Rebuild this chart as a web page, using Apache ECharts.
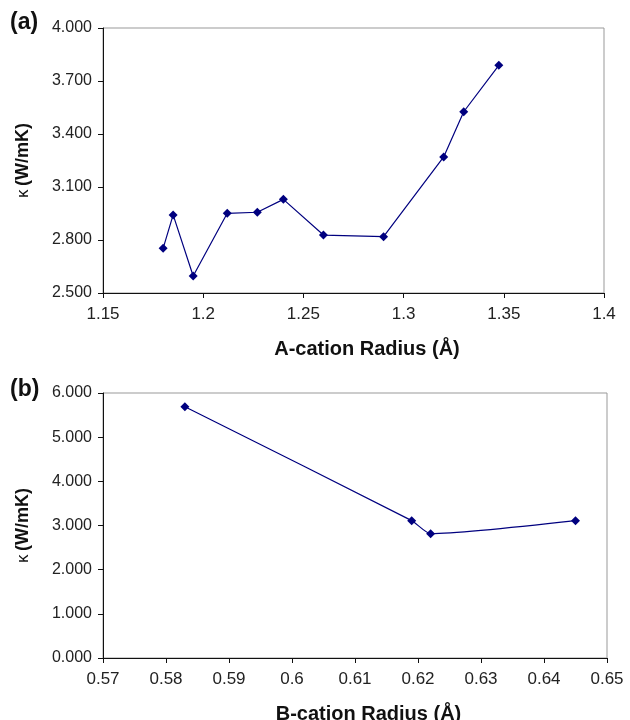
<!DOCTYPE html>
<html>
<head>
<meta charset="utf-8">
<script src="https://cdn.jsdelivr.net/npm/echarts@6/dist/echarts.min.js"></script>
<style>
  html, body { margin: 0; padding: 0; background: #fff; }
  #main { width: 630px; height: 720px; }
</style>
</head>
<body>
<div id="main"></div>
<script>
// panel (a): A-cation radius vs kappa
var aRadius = [1.18, 1.185, 1.195, 1.212, 1.227, 1.24, 1.26, 1.29, 1.32, 1.33, 1.3475];
var aKappa  = [2.753, 2.942, 2.596, 2.951, 2.957, 3.030, 2.828, 2.819, 3.270, 3.526, 3.789];
// panel (b): B-cation radius vs kappa
var bRadius = [0.583, 0.619, 0.622, 0.645];
var bKappa  = [5.69, 3.11, 2.815, 3.11];

var navy = '#00007f';
var font = 'Liberation Sans, Arial, sans-serif';

function pairs(xs, ys) {
  return xs.map(function (x, i) { return [x, ys[i]]; });
}

function xAxisOf(idx, min, max, interval, name) {
  return {
    type: 'value', gridIndex: idx, min: min, max: max, interval: interval,
    name: name, nameLocation: 'middle', nameGap: 46,
    nameTextStyle: { fontFamily: font, fontSize: 20, fontWeight: 'bold', color: '#111', padding: [0, 0, 0, 27] },
    axisLine: { show: true, lineStyle: { color: '#111', width: 1 } },
    axisTick: { show: true, length: 5, lineStyle: { color: '#111' } },
    axisLabel: { fontFamily: font, fontSize: 17, color: '#222', margin: 13 },
    splitLine: { show: false }
  };
}

function yAxisOf(idx, min, max, interval) {
  return {
    type: 'value', gridIndex: idx, min: min, max: max, interval: interval,
    name: '{k|κ} {b|(W/mK)}', nameLocation: 'middle', nameGap: 71, nameRotate: 90,
    nameTextStyle: {
      rich: {
        k: { fontFamily: font, fontSize: 17, color: '#111' },
        b: { fontFamily: font, fontSize: 18, fontWeight: 'bold', color: '#111' }
      }
    },
    axisLine: { show: true, lineStyle: { color: '#111', width: 1 } },
    axisTick: { show: true, length: 5, lineStyle: { color: '#111' } },
    axisLabel: {
      fontFamily: font, fontSize: 16, color: '#222', margin: 11,
      formatter: function (v) { return v.toFixed(3); }
    },
    splitLine: { show: false }
  };
}

var chart = echarts.init(document.getElementById('main'));
var option = {
  backgroundColor: '#fff',
  animation: false,
  grid: [
    { left: 103, top: 28, width: 501, height: 265, show: true, borderColor: '#999', borderWidth: 1,
      containLabel: false, outerBoundsMode: 'none' },
    { left: 103, top: 393, width: 504, height: 265, show: true, borderColor: '#999', borderWidth: 1,
      containLabel: false, outerBoundsMode: 'none' }
  ],
  xAxis: [
    xAxisOf(0, 1.15, 1.4, 0.05, 'A-cation Radius (Å)'),
    xAxisOf(1, 0.57, 0.65, 0.01, 'B-cation Radius (Å)')
  ],
  yAxis: [
    yAxisOf(0, 2.5, 4.0, 0.3),
    yAxisOf(1, 0, 6, 1)
  ],
  graphic: [
    { type: 'text', left: 10, top: 11, style: { text: '(a)', font: 'bold 23px ' + font, fill: '#111' } },
    { type: 'text', left: 10, top: 378, style: { text: '(b)', font: 'bold 23px ' + font, fill: '#111' } }
  ],
  series: [
    {
      type: 'line', xAxisIndex: 0, yAxisIndex: 0,
      data: pairs(aRadius, aKappa),
      symbol: 'diamond', symbolSize: 9,
      lineStyle: { color: navy, width: 1.2 },
      itemStyle: { color: navy }
    },
    {
      type: 'line', xAxisIndex: 1, yAxisIndex: 1,
      data: pairs(bRadius, bKappa),
      smooth: 0.2,
      symbol: 'diamond', symbolSize: 9,
      lineStyle: { color: navy, width: 1.2 },
      itemStyle: { color: navy }
    }
  ]
};
chart.setOption(option);
</script>
</body>
</html>
